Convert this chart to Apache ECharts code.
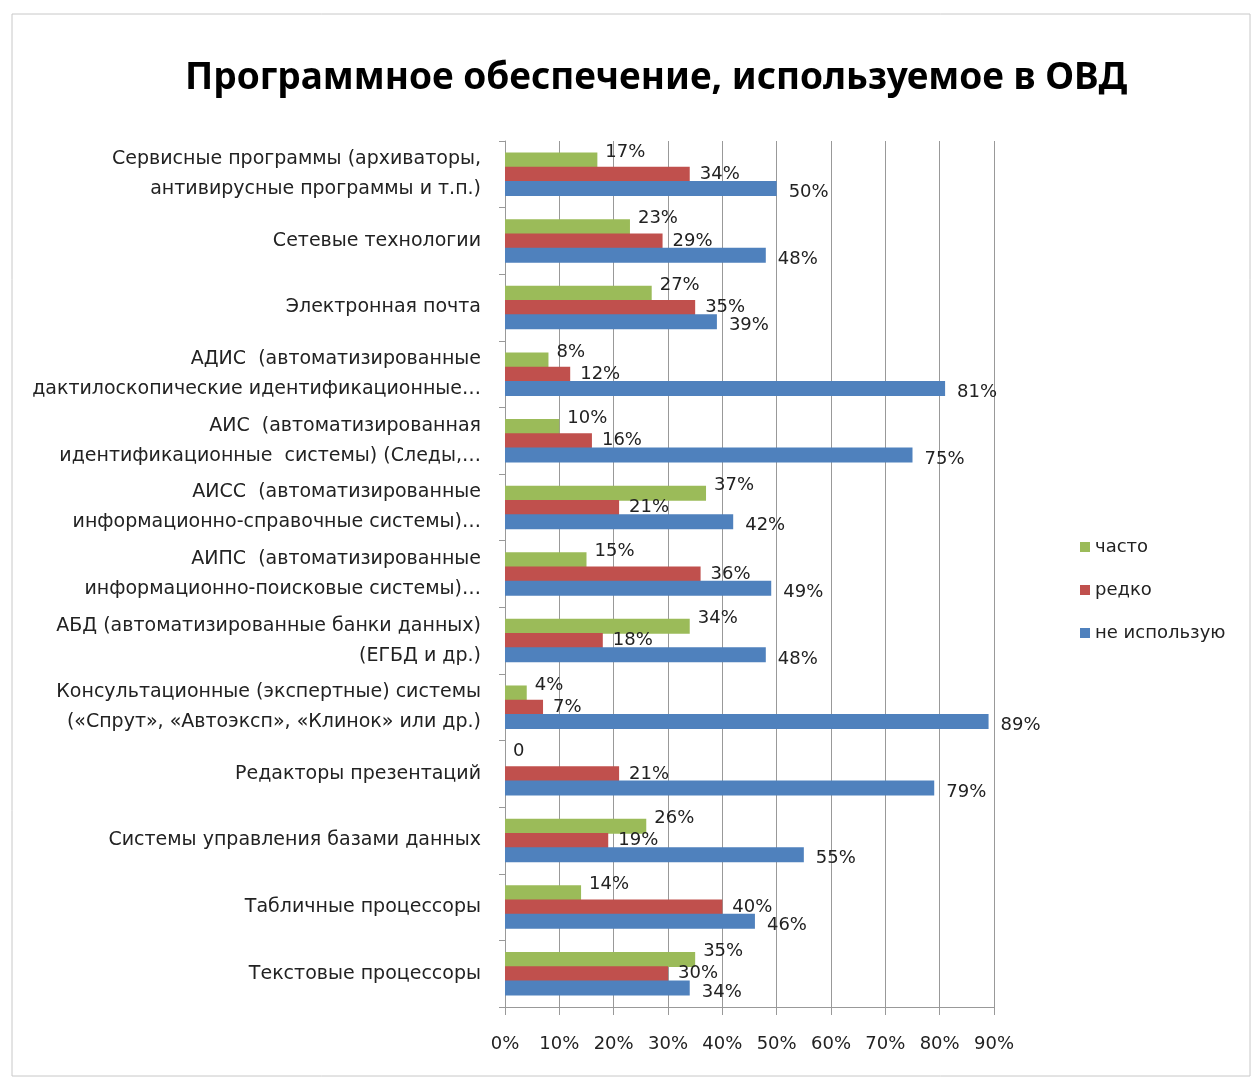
<!DOCTYPE html>
<html><head><meta charset="utf-8">
<script src="https://cdn.jsdelivr.net/npm/echarts@6/dist/echarts.min.js"></script>
<style>html,body{margin:0;padding:0;background:#fff}#c{width:1255px;height:1079px}</style>
</head><body><div id="c"></div>
<script>
const categories = [
  'Сервисные программы (архиваторы,\nантивирусные программы и т.п.)',
  'Сетевые технологии',
  'Электронная почта',
  'АДИС  (автоматизированные\nдактилоскопические идентификационные…',
  'АИС  (автоматизированная\nидентификационные  системы) (Следы,…',
  'АИСС  (автоматизированные\nинформационно-справочные системы)…',
  'АИПС  (автоматизированные\nинформационно-поисковые системы)…',
  'АБД (автоматизированные банки данных)\n(ЕГБД и др.)',
  'Консультационные (экспертные) системы\n(«Спрут», «Автоэксп», «Клинок» или др.)',
  'Редакторы презентаций',
  'Системы управления базами данных',
  'Табличные процессоры',
  'Текстовые процессоры'
];
const often   = [17, 23, 27, 8, 10, 37, 15, 34, 4, 0, 26, 14, 35];
const rarely  = [34, 29, 35, 12, 16, 21, 36, 18, 7, 21, 19, 40, 30];
const notUsed = [50, 48, 39, 81, 75, 42, 49, 48, 89, 79, 55, 46, 34];
const seriesNames = ['часто', 'редко', 'не использую'];

const chart = echarts.init(document.getElementById('c'));
const font = 'DejaVu Sans';
function mk(name, data, color, offY, dist) {
  return {
    name, type: 'bar', data, barWidth: 15, barGap: '-5%',
    itemStyle: { color: color },
    label: {
      show: true, position: 'right', distance: dist, offset: [0, offY],
      formatter: p => (p.value === 0 ? '0' : p.value + '%'),
      color: '#222', fontFamily: font, fontSize: 18
    }
  };
}
chart.setOption({
  animation: false,
  backgroundColor: '#fff',
  graphic: [{ type: 'rect', shape: { x: 12, y: 14, width: 1238, height: 1062 },
    style: { fill: 'none', stroke: '#c8c8c8', lineWidth: 1 } }],
  title: {
    text: 'Программное обеспечение, используемое в ОВД',
    left: 180, top: 55,
    textStyle: { fontFamily: 'Noto Sans', fontWeight: 'bold', fontSize: 37, color: '#000' }
  },
  legend: {
    orient: 'vertical', left: 1075, top: 533, itemGap: 25,
    itemWidth: 10, itemHeight: 10, icon: 'rect',
    textStyle: { fontFamily: font, fontSize: 18, color: '#222' },
    data: seriesNames
  },
  grid: { left: 505, right: 261, top: 141, bottom: 72, containLabel: false },
  xAxis: {
    type: 'value', min: 0, max: 90, interval: 10,
    axisLabel: { formatter: v => v + '%', fontFamily: font, fontSize: 18, color: '#222', margin: 28 },
    axisLine: { show: true, lineStyle: { color: '#999' } },
    axisTick: { show: true, length: 8, lineStyle: { color: '#999' } },
    splitLine: { show: true, lineStyle: { color: '#999' } }
  },
  yAxis: {
    type: 'category', data: categories, inverse: true,
    axisLabel: { fontFamily: font, fontSize: 19, color: '#222', margin: 24, lineHeight: 30, align: 'right' },
    axisLine: { show: true, lineStyle: { color: '#999' } },
    axisTick: { show: true, length: 6, lineStyle: { color: '#999' } }
  },
  series: [
    mk(seriesNames[0], often, '#9BBB59', -8, 8),
    mk(seriesNames[1], rarely, '#C0504D', 0, 10),
    mk(seriesNames[2], notUsed, '#4F81BD', 4, 12)
  ]
});
</script></body></html>
